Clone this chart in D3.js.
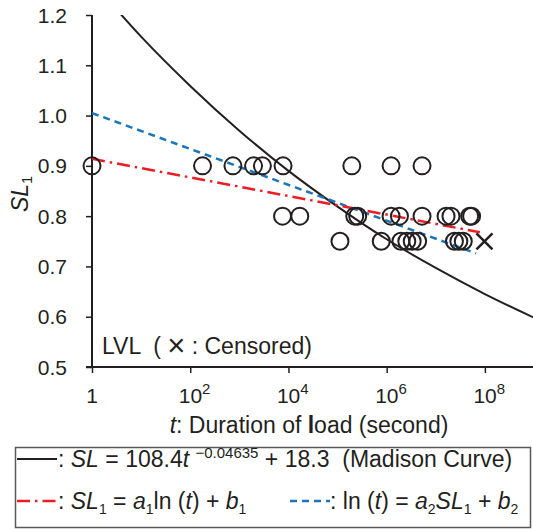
<!DOCTYPE html>
<html>
<head>
<meta charset="utf-8">
<script src="https://cdn.jsdelivr.net/npm/d3@7"></script>
<style>
  body { margin: 0; background: #fff; }
  svg { display: block; font-family: "Liberation Sans", Arial, sans-serif; }
</style>
</head>
<body>
<div id="chart"></div>
<script>
// observed failures (t in seconds, SL1 ratio)
var pointT = [1, 178, 741, 1950, 2950, 7760, 1.95e5, 1.23e6, 5.25e6,
              7590, 1.7e4, 2.24e5, 2.57e5, 1.23e6, 1.82e6, 5.25e6, 1.62e7, 2.04e7, 4.9e7, 5.37e7,
              1.12e5, 7.76e5, 1.95e6, 2.57e6, 3.31e6, 4.27e6, 2.4e7, 2.95e7, 3.63e7];
var pointSL = [0.9, 0.9, 0.9, 0.9, 0.9, 0.9, 0.9, 0.9, 0.9,
               0.8, 0.8, 0.8, 0.8, 0.8, 0.8, 0.8, 0.8, 0.8, 0.8, 0.8,
               0.75, 0.75, 0.75, 0.75, 0.75, 0.75, 0.75, 0.75, 0.75];
// censored
var censT = [9.8e7];
var censSL = [0.75];

// Madison curve read at each decade
var madisonT = [1, 10, 100, 1e3, 1e4, 1e5, 1e6, 1e7, 1e8, 1e9];
var madisonSL = [1.267, 1.157, 1.059, 0.970, 0.890, 0.819, 0.754, 0.697, 0.645, 0.598];

// fitted lines (end points)
var redT = [1, 7.9e7];
var redSL = [0.914, 0.768];
var blueT = [1, 6.6e7];
var blueSL = [1.005, 0.726];

var xTicks = [1, 1e2, 1e4, 1e6, 1e8];
var xTickExp = ["", "2", "4", "6", "8"];
var yTicks = [0.5, 0.6, 0.7, 0.8, 0.9, 1.0, 1.1, 1.2];

var W = 533, H = 529;
var pL = 92, pR = 534, pT = 15, pB = 367;
var fs = 21, fsT = 23;
var ink = "#231f20";

var svg = d3.select("#chart").append("svg").attr("width", W).attr("height", H);

var x = d3.scaleLog().domain([1, 1e9]).range([pL, pR]);
var y = d3.scaleLinear().domain([0.5, 1.2]).range([pB, pT]);

svg.append("defs").append("clipPath").attr("id", "plot")
  .append("rect").attr("x", pL).attr("y", pT).attr("width", pR - pL).attr("height", pB - pT);

// axes
var xAxis = d3.axisBottom(x).tickValues(xTicks).tickSize(6).tickSizeOuter(0).tickFormat("");
var yAxis = d3.axisLeft(y).tickValues(yTicks).tickSize(6).tickSizeOuter(0).tickFormat("");

var gx = svg.append("g").attr("transform", "translate(0," + pB + ")").call(xAxis);
var gy = svg.append("g").attr("transform", "translate(" + pL + ",0)").call(yAxis);
[gx, gy].forEach(function(g) {
  g.select(".domain").attr("stroke", ink).attr("stroke-width", 2);
  g.selectAll(".tick line").attr("stroke", ink).attr("stroke-width", 1.5);
});
gy.select(".domain").attr("d", "M0," + (pB + 1) + "V" + pT);
gx.select(".domain").attr("d", "M" + (pL - 6) + ",0H" + pR);

// y tick labels
svg.selectAll("text.ytl").data(yTicks).enter().append("text")
  .attr("class", "ytl")
  .attr("x", pL - 25).attr("y", function(d) { return y(d) + 7.5; })
  .attr("text-anchor", "end").attr("font-size", fs).attr("fill", ink)
  .text(function(d) { return d.toFixed(1); });

// x tick labels
xTicks.forEach(function(t, i) {
  var tx = svg.append("text").attr("y", pB + 36).attr("font-size", fs).attr("fill", ink);
  if (xTickExp[i] === "") {
    tx.attr("x", x(t)).attr("text-anchor", "middle").text("1");
  } else {
    tx.attr("x", x(t) - 11.5);
    tx.append("tspan").text("10");
    tx.append("tspan").attr("font-size", 15).attr("dy", -9).text(xTickExp[i]);
  }
});

// axis titles
var xt = svg.append("text").attr("x", (pL + pR) / 2 - 4).attr("y", pB + 66)
  .attr("text-anchor", "middle").attr("font-size", fsT).attr("fill", ink);
xt.append("tspan").attr("font-style", "italic").text("t");
xt.append("tspan").text(": Duration of ");
xt.append("tspan").attr("font-weight", "bold").text("l");
xt.append("tspan").text("oad (second)");

var yt = svg.append("text").attr("transform", "translate(28,194) rotate(-90)")
  .attr("text-anchor", "middle").attr("font-size", fsT).attr("fill", ink);
yt.append("tspan").attr("font-style", "italic").text("SL");
yt.append("tspan").attr("font-size", 14).attr("dy", 4).text("1");

// lines
var plot = svg.append("g").attr("clip-path", "url(#plot)");
var line = d3.line().x(function(d) { return x(d[0]); }).y(function(d) { return y(d[1]); });

plot.append("path")
  .attr("d", line.curve(d3.curveMonotoneX)(d3.zip(madisonT, madisonSL)))
  .attr("fill", "none").attr("stroke", ink).attr("stroke-width", 2);

plot.append("path")
  .attr("d", line.curve(d3.curveLinear)(d3.zip(blueT, blueSL)))
  .attr("fill", "none").attr("stroke", "#1b75bb").attr("stroke-width", 2.5)
  .attr("stroke-dasharray", "7,5");

plot.append("path")
  .attr("d", line.curve(d3.curveLinear)(d3.zip(redT, redSL)))
  .attr("fill", "none").attr("stroke", "#ed1c24").attr("stroke-width", 2.5)
  .attr("stroke-dasharray", "13,5,2.5,5");

// points
svg.selectAll("circle.pt").data(d3.zip(pointT, pointSL)).enter().append("circle")
  .attr("class", "pt")
  .attr("cx", function(d) { return x(d[0]); })
  .attr("cy", function(d) { return y(d[1]); })
  .attr("r", 8.5)
  .attr("fill", "none").attr("stroke", ink).attr("stroke-width", 2);

svg.selectAll("path.cens").data(d3.zip(censT, censSL)).enter().append("path")
  .attr("class", "cens")
  .attr("d", function(d) {
    var cx = x(d[0]), cy = y(d[1]), s = 8;
    return "M" + (cx - s) + "," + (cy - s) + "L" + (cx + s) + "," + (cy + s) +
           "M" + (cx - s) + "," + (cy + s) + "L" + (cx + s) + "," + (cy - s);
  })
  .attr("stroke", ink).attr("stroke-width", 2.5);

// note
var note = svg.append("text").attr("x", 102).attr("y", 354).attr("font-size", fsT).attr("fill", ink)
  .attr("xml:space", "preserve");
note.append("tspan").text("LVL  ( ");
note.append("tspan").attr("font-size", 31).attr("font-weight", 300).attr("dy", 2).text("\u00d7");
note.append("tspan").attr("dy", -2).text(" : Censored)");

// legend
var lg = svg.append("g");
lg.append("rect").attr("x", 15.5).attr("y", 447.5).attr("width", 515).attr("height", 80)
  .attr("fill", "#fff").attr("stroke", "#58595b").attr("stroke-width", 1.5);

function rich(g, xx, yy, parts) {
  var t = g.append("text").attr("x", xx).attr("y", yy).attr("font-size", fsT).attr("fill", ink)
    .attr("xml:space", "preserve");
  var shift = 0;
  parts.forEach(function(p) {
    var s = t.append("tspan").text(p[0]);
    var target = 0;
    if (p[1] === "i") s.attr("font-style", "italic");
    if (p[1] === "sup") { s.attr("font-size", 15); target = -9; }
    if (p[1] === "sub") { s.attr("font-size", 14); target = 5; }
    if (target !== shift) { s.attr("dy", target - shift); shift = target; }
  });
  return t;
}

lg.append("line").attr("x1", 17).attr("x2", 57).attr("y1", 459).attr("y2", 459)
  .attr("stroke", ink).attr("stroke-width", 2);
rich(lg, 58, 467, [[": ", "n"], ["SL", "i"], [" = 108.4", "n"], ["t", "i"], [" ", "n"],
  ["\u22120.04635", "sup"], [" + 18.3  (Madison Curve)", "n"]]);

lg.append("line").attr("x1", 17).attr("x2", 57).attr("y1", 501).attr("y2", 501)
  .attr("stroke", "#ed1c24").attr("stroke-width", 2.5).attr("stroke-dasharray", "13,5,2.5,5");
rich(lg, 58, 509, [[": ", "n"], ["SL", "i"], ["1", "sub"], [" = ", "n"], ["a", "i"], ["1", "sub"],
  ["ln (", "n"], ["t", "i"], [") + ", "n"], ["b", "i"], ["1", "sub"]]);

lg.append("line").attr("x1", 290).attr("x2", 330).attr("y1", 501).attr("y2", 501)
  .attr("stroke", "#1b75bb").attr("stroke-width", 2.5).attr("stroke-dasharray", "7,5");
rich(lg, 330, 509, [[": ln (", "n"], ["t", "i"], [") = ", "n"], ["a", "i"], ["2", "sub"],
  ["SL", "i"], ["1", "sub"], [" + ", "n"], ["b", "i"], ["2", "sub"]]);
</script>
</body>
</html>
